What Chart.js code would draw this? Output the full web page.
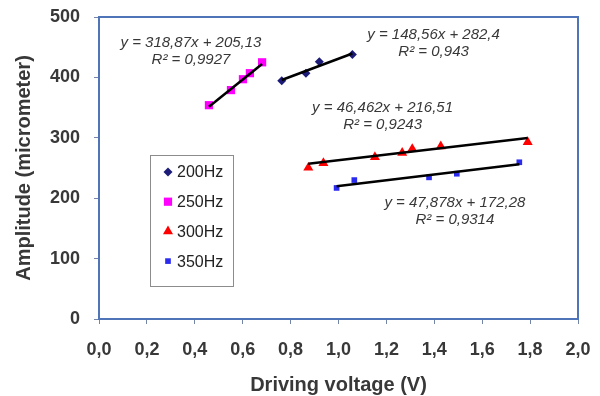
<!DOCTYPE html>
<html>
<head>
<meta charset="utf-8">
<script src="https://cdn.jsdelivr.net/npm/chart.js@4/dist/chart.umd.min.js"></script>
<style>
  html, body { margin: 0; padding: 0; background: #fff; }
  #wrap { width: 600px; height: 396px; }
</style>
</head>
<body>
<div id="wrap"><canvas id="ampChart" width="600" height="396"></canvas></div>
<script>
const seriesNames = ['200Hz', '250Hz', '300Hz', '350Hz'];
const volt200 = [0.763, 0.864, 0.920, 1.058];
const amp200 = [394.5, 406.8, 426, 438];
const volt250 = [0.459, 0.551, 0.601, 0.630, 0.681];
const amp250 = [354, 379, 397, 407, 425];
const volt300 = [0.874, 0.937, 1.152, 1.266, 1.308, 1.427, 1.790];
const amp300 = [250.5, 258, 268, 275, 281.5, 286, 293];
const volt350 = [0.992, 1.066, 1.378, 1.494, 1.755];
const amp350 = [217, 230, 234.5, 240.5, 259.5];

// trendline coefficients as printed on the chart
const trendSlope = [148.56, 318.87, 46.462, 47.878];
const trendIntercept = [282.4, 205.13, 216.51, 172.28];
const eqLabels = ['y = 148,56x + 282,4', 'y = 318,87x + 205,13', 'y = 46,462x + 216,51', 'y = 47,878x + 172,28'];
const r2Labels = ['R² = 0,943', 'R² = 0,9927', 'R² = 0,9243', 'R² = 0,9314'];

const xTicksMin = 0, xTicksMax = 2, xStep = 0.2;
const yTicksMin = 0, yTicksMax = 500, yStep = 100;

const FONT = '"Liberation Sans", Arial, sans-serif';
const AXIS_BLUE = '#4f74b8';
const TEXT_GRAY = '#383838';

const voltSets = [volt200, volt250, volt300, volt350];
const ampSets = [amp200, amp250, amp300, amp350];
const markerStyles = [
    { pointStyle: 'rectRot', radius: 4.5, color: '#1c1c78' },
    { pointStyle: 'rect', radius: 5.8, color: '#ff00ff' },
    { pointStyle: 'triangle', radius: 5.8, color: '#ff0000' },
    { pointStyle: 'rect', radius: 4, color: '#2b2bf0' }
];
// where each equation box sits (data coords of its first line centre)
const eqAnchors = [[1.397, 470], [0.384, 457], [1.184, 349], [1.486, 192]];

const datasets = [];
seriesNames.forEach((name, i) => {
    const xs = voltSets[i];
    const lo = Math.min(...xs), hi = Math.max(...xs);
    datasets.push({
        label: name + ' trend',
        isTrend: true,
        type: 'line',
        data: [lo, hi].map(v => ({ x: v, y: trendSlope[i] * v + trendIntercept[i] })),
        borderColor: '#000',
        borderWidth: 2.5,
        pointRadius: 0,
        order: 0
    });
});
seriesNames.forEach((name, i) => {
    const m = markerStyles[i];
    datasets.push({
        label: name,
        data: voltSets[i].map((v, j) => ({ x: v, y: ampSets[i][j] })),
        pointStyle: m.pointStyle,
        pointRadius: m.radius,
        pointHoverRadius: m.radius,
        backgroundColor: m.color,
        borderColor: m.color,
        borderWidth: 0,
        showLine: false,
        order: 1
    });
});

function drawMarker(ctx, style, radius, color, x, y) {
    ctx.save();
    ctx.fillStyle = color;
    ctx.beginPath();
    if (style === 'rectRot') {
        ctx.moveTo(x, y - radius);
        ctx.lineTo(x + radius, y);
        ctx.lineTo(x, y + radius);
        ctx.lineTo(x - radius, y);
    } else if (style === 'triangle') {
        for (let k = 0; k < 3; k++) {
            const a = k * 2 * Math.PI / 3;
            const px = x + Math.sin(a) * radius, py = y - Math.cos(a) * radius;
            if (k === 0) ctx.moveTo(px, py); else ctx.lineTo(px, py);
        }
    } else {
        const s = Math.SQRT1_2 * radius;
        ctx.rect(x - s, y - s, 2 * s, 2 * s);
    }
    ctx.closePath();
    ctx.fill();
    ctx.restore();
}

const framePlugin = {
    id: 'frame',
    afterDraw(chart) {
        const { ctx, chartArea: a, scales } = chart;
        ctx.save();
        ctx.strokeStyle = AXIS_BLUE;
        ctx.lineWidth = 2;
        ctx.strokeRect(a.left, a.top, a.right - a.left, a.bottom - a.top);

        // equation labels
        ctx.fillStyle = TEXT_GRAY;
        ctx.font = 'italic 15px ' + FONT;
        ctx.textAlign = 'center';
        ctx.textBaseline = 'middle';
        eqAnchors.forEach((p, i) => {
            const x = scales.x.getPixelForValue(p[0]);
            const y = scales.y.getPixelForValue(p[1]);
            ctx.fillText(eqLabels[i], x, y);
            ctx.fillText(r2Labels[i], x, y + 17);
        });

        // legend box
        const bx = 150, by = 155, bw = 83, bh = 131;
        ctx.fillStyle = '#fff';
        ctx.fillRect(bx, by, bw, bh);
        ctx.strokeStyle = '#8c8c8c';
        ctx.lineWidth = 1;
        ctx.strokeRect(bx + 0.5, by + 0.5, bw, bh);
        ctx.font = '16px ' + FONT;
        ctx.textAlign = 'left';
        chart.data.datasets.filter(d => !d.isTrend).forEach((d, i) => {
            const iy = by + 17 + i * 29.7;
            drawMarker(ctx, d.pointStyle, d.pointRadius, d.backgroundColor, bx + 18, iy);
            ctx.fillStyle = '#222';
            ctx.fillText(d.label, bx + 27, iy + 1);
        });
        ctx.restore();
    }
};

const ctx = document.getElementById('ampChart');

new Chart(ctx, {
    type: 'scatter',
    data: { datasets },
    options: {
        responsive: false,
        animation: false,
        layout: { padding: { top: 17, right: 22, left: 0, bottom: 0 } },
        plugins: {
            legend: { display: false },
            tooltip: { enabled: false }
        },
        scales: {
            x: {
                type: 'linear',
                min: xTicksMin,
                max: xTicksMax,
                afterFit: s => { s.height = 77; s.paddingLeft = 0; s.paddingRight = 0; },
                ticks: {
                    stepSize: xStep,
                    padding: 15,
                    color: TEXT_GRAY,
                    font: { family: FONT, size: 18, weight: 'bold' },
                    callback: v => v.toFixed(1).replace('.', ',')
                },
                grid: { drawOnChartArea: false, drawTicks: true, tickLength: 5, color: '#7486a8' },
                border: { color: AXIS_BLUE, width: 2 },
                title: {
                    display: true,
                    text: 'Driving voltage (V)',
                    color: TEXT_GRAY,
                    font: { family: FONT, size: 20, weight: 'bold', lineHeight: 1.1 },
                    padding: { top: 0, bottom: 0 }
                }
            },
            y: {
                type: 'linear',
                min: yTicksMin,
                max: yTicksMax,
                afterFit: s => { s.width = 99; s.paddingTop = 0; s.paddingBottom = 0; },
                ticks: {
                    stepSize: yStep,
                    padding: 14,
                    color: TEXT_GRAY,
                    font: { family: FONT, size: 18, weight: 'bold' }
                },
                grid: { drawOnChartArea: false, drawTicks: true, tickLength: 5, color: '#7486a8' },
                border: { color: AXIS_BLUE, width: 2 },
                title: {
                    display: true,
                    text: 'Amplitude (micrometer)',
                    color: TEXT_GRAY,
                    font: { family: FONT, size: 20, weight: 'bold', lineHeight: 1.2 },
                    padding: { top: 12, bottom: 0 }
                }
            }
        }
    },
    plugins: [framePlugin]
});
</script>
</body>
</html>
